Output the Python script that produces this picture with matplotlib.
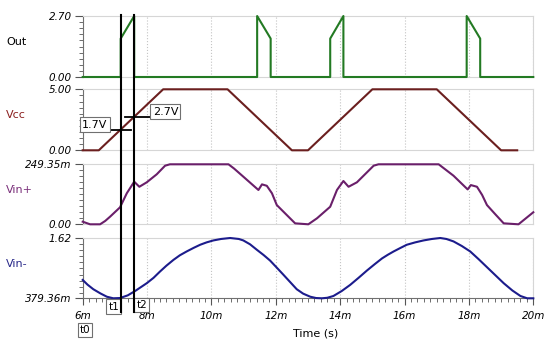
import matplotlib.pyplot as plt
from matplotlib.ticker import MultipleLocator
from matplotlib.transforms import blended_transform_factory

# time axis in ms
out_t = [6.0, 7.18, 7.18, 7.6, 7.6, 11.42, 11.42, 11.84, 11.84, 13.69, 13.69, 14.1, 14.1,
         17.93, 17.93, 18.35, 18.35, 20.0]
out_v = [0, 0, 1.7, 2.7, 0, 0, 2.7, 1.7, 0, 0, 1.7, 2.7, 0, 0, 2.7, 1.7, 0, 0]

vcc_t = [6.0, 6.5, 8.5, 10.5, 12.5, 13.0, 15.0, 17.0, 19.0, 19.5]
vcc_v = [0, 0, 5, 5, 0, 0, 5, 5, 0, 0]

vinp_t = [6.0, 6.23, 6.54, 6.7, 6.85, 7.16, 7.37, 7.6, 7.76, 7.99, 8.3, 8.56, 8.71,
          10.53, 10.7, 10.99, 11.46, 11.57, 11.72, 11.88, 12.03, 12.34, 12.6, 13.01,
          13.28, 13.69, 13.9, 14.1, 14.26, 14.52, 15.04, 15.19, 17.06, 17.52, 17.96,
          18.06, 18.25, 18.41, 18.56, 18.82, 19.08, 19.54, 20.0]
vinp_v = [10.8, 0, 0, 14, 31.6, 70.6, 129, 177, 156, 174.5, 207.8, 243.6, 249.35,
          249.35, 232, 198, 142.6, 166, 160, 129, 80, 38.6, 4, 0,
          25, 73, 142.6, 180, 156, 174.5, 243.6, 249.35, 249.35, 202, 145,
          163, 156, 122, 80, 41.6, 4, 0, 50]

vinm_t = [6.0, 6.15, 6.33, 6.55, 6.75, 6.95, 7.16, 7.4, 7.63, 7.99, 8.2, 8.4, 8.6, 8.82,
          9.02, 9.23, 9.45, 9.65, 9.85, 10.06, 10.3, 10.58, 10.85, 10.99, 11.2, 11.41,
          11.62, 11.82, 12.03, 12.24, 12.45, 12.65, 12.85, 13.07, 13.25, 13.43, 13.6,
          13.79, 14.05, 14.31, 14.57, 14.83, 15.07, 15.3, 15.48, 15.66, 15.87, 16.07,
          16.33, 16.59, 16.85, 17.11, 17.3, 17.52, 17.78, 18.04, 18.3, 18.56, 18.82,
          19.08, 19.35, 19.6, 19.81, 20.0]
vinm_v = [0.757, 0.66, 0.566, 0.48, 0.412, 0.3794, 0.385, 0.44, 0.53, 0.69, 0.8, 0.929,
          1.05, 1.17, 1.265, 1.343, 1.418, 1.481, 1.53, 1.57, 1.6, 1.62, 1.6, 1.57, 1.49,
          1.378, 1.27, 1.157, 1.01, 0.861, 0.71, 0.566, 0.475, 0.412, 0.385, 0.3794,
          0.39, 0.427, 0.53, 0.655, 0.8, 0.95, 1.08, 1.2, 1.275, 1.343, 1.415, 1.481,
          1.53, 1.57, 1.6, 1.62, 1.6, 1.55, 1.455, 1.343, 1.185, 1.02, 0.855, 0.69,
          0.54, 0.427, 0.3794, 0.3794]

t1, t2 = 7.18, 7.6

panels = [
    ("Out", out_t, out_v, 0, 2.7, ["0.00", "2.70"], "#237a23", "black", [16, 77]),
    ("Vcc", vcc_t, vcc_v, 0, 5.0, ["0.00", "5.00"], "#6b1f1f", "#8b1f1f", [89.3, 150.3]),
    ("Vin+", vinp_t, vinp_v, 0, 249.35, ["0.00", "249.35m"], "#6a1f6a", "#7a2f7a", [164.3, 224.3]),
    ("Vin-", vinm_t, vinm_v, 0.37936, 1.62, ["379.36m", "1.62"], "#1c1c8c", "#2a2a8a", [238, 298.3]),
]

W, H = 554, 350
fig = plt.figure(figsize=(W / 100, H / 100), dpi=100)
left = 82.7 / W
width = (533.3 - 82.7) / W

axes = []
for name, t, v, lo, hi, labels, col, lcol, (ytop, ybot) in panels:
    ax = fig.add_axes([left, 1 - ybot / H, width, (ybot - ytop) / H])
    ax.plot(t, v, color=col, lw=1.5, clip_on=False, zorder=3)
    ax.set_xlim(6, 20)
    ax.set_ylim(lo, hi)
    ax.set_yticks([lo, hi])
    ax.set_yticklabels(labels, fontstyle="italic", fontsize=7.5)
    ax.yaxis.set_minor_locator(MultipleLocator((hi - lo) / 10))
    ax.tick_params(axis="y", which="major", length=6, width=0.8, color="#555555", pad=2)
    ax.tick_params(axis="y", which="minor", length=3, width=0.6, color="#555555")
    for s in ["top", "right", "bottom"]:
        ax.spines[s].set_color("#d6d6d6")
    ax.spines["left"].set_color("#707070")
    ax.set_xticks(range(6, 21, 2))
    ax.grid(axis="x", which="major", ls=":", color="#c4c4c4", lw=0.8)
    ax.tick_params(axis="x", which="both", length=0, labelbottom=False)
    fig.text(6 / W, 1 - (ytop + ybot) / 2 / H + 4.5 / H, name, fontsize=8, color=lcol,
             va="center", ha="left")
    axes.append(ax)

ax4 = axes[-1]
ax4.spines["bottom"].set_color("#707070")
ax4.set_xticklabels([f"{x}m" for x in range(6, 21, 2)], fontstyle="italic", fontsize=7.5)
ax4.xaxis.set_minor_locator(MultipleLocator(0.2))
ax4.tick_params(axis="x", which="major", length=5, width=0.8, color="#555555",
                labelbottom=True, pad=4)
ax4.tick_params(axis="x", which="minor", length=3, width=0.6, color="#555555")
fig.text(316 / W, 1 - 333 / H, "Time (s)", fontsize=8, ha="center", va="center")

# cursors
trans = blended_transform_factory(ax4.transData, fig.transFigure)
for tc in (t1, t2):
    ax4.plot([tc, tc], [1 - 14.7 / H, 1 - 312 / H], color="black", lw=1.5,
             transform=trans, clip_on=False, zorder=5)

box = dict(boxstyle="square,pad=0.2", fc="white", ec="#707070", lw=0.8)
ax4.text(t1 - 0.05, 1 - 306.5 / H, "t1", transform=trans, ha="right", va="center",
         fontsize=7.5, bbox=box)
ax4.text(t2 + 0.07, 1 - 305 / H, "t2", transform=trans, ha="left", va="center",
         fontsize=7.5, bbox=box)
ax4.text(6.07, 1 - 330 / H, "t0", transform=trans, ha="center", va="center",
         fontsize=7.5, bbox=box)

# Vcc level markers at the cursors
ax2 = axes[1]
ax2.plot([t1 - 0.45, t1 + 0.32], [1.7, 1.7], color="black", lw=1.3, zorder=4)
ax2.plot([t2 - 0.29, t2 + 0.52], [2.7, 2.7], color="black", lw=1.3, zorder=4)
ax2.text(6.37, 2.11, "1.7V", fontsize=8, ha="center", va="center", bbox=box, zorder=6)
ax2.text(8.57, 3.18, "2.7V", fontsize=8, ha="center", va="center", bbox=box, zorder=6)

fig.savefig("out.png", dpi=100)
